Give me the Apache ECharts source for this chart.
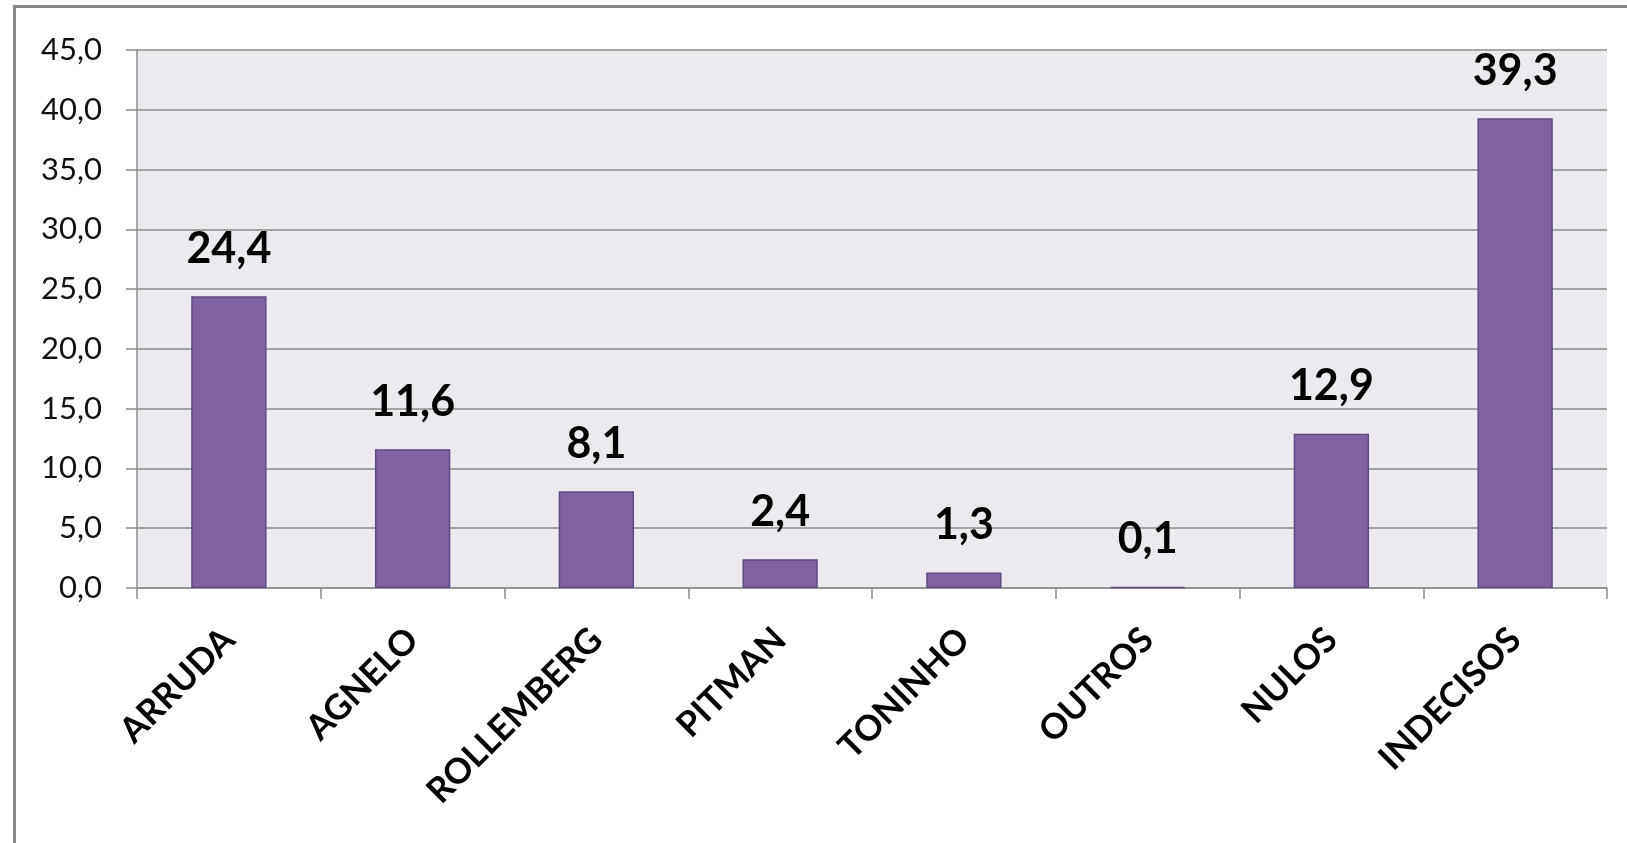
<!DOCTYPE html>
<html>
<head>
<meta charset="utf-8">
<script src="https://cdn.jsdelivr.net/npm/echarts@6/dist/echarts.min.js"></script>
<style>
html,body{margin:0;padding:0;background:#fff;}
#chart{width:1627px;height:843px;}
</style>
</head>
<body>
<div id="chart"></div>
<script>
var categories = ['ARRUDA', 'AGNELO', 'ROLLEMBERG', 'PITMAN', 'TONINHO', 'OUTROS', 'NULOS', 'INDECISOS'];
var values = [24.4, 11.6, 8.1, 2.4, 1.3, 0.1, 12.9, 39.3];
var yTicks = [0, 5, 10, 15, 20, 25, 30, 35, 40, 45];

function fmt(v) { return v.toFixed(1).replace('.', ','); }

var chart = echarts.init(document.getElementById('chart'));
chart.setOption({
  animation: false,
  backgroundColor: '#ffffff',
  graphic: [{
    type: 'rect',
    left: 12, top: 4,
    shape: { width: 1700, height: 900 },
    style: { fill: 'none', stroke: '#878787', lineWidth: 3 },
    silent: true, z: 100
  }],
  grid: {
    left: 137, right: 20, top: 50, bottom: 255,
    show: true, backgroundColor: '#ECE9EF', borderWidth: 0
  },
  xAxis: {
    type: 'category',
    data: categories,
    axisLine: { lineStyle: { color: '#8C8C8C', width: 1.5 } },
    axisTick: { show: true, length: 11, lineStyle: { color: '#8C8C8C', width: 1.5 } },
    axisLabel: {
      rotate: 45, interval: 0, margin: 46,
      fontFamily: 'Lato', fontWeight: 'bold', fontSize: 35, color: '#000'
    }
  },
  yAxis: {
    type: 'value',
    min: yTicks[0], max: yTicks[yTicks.length - 1], interval: 5,
    axisLine: { show: true, lineStyle: { color: '#8C8C8C', width: 1.5 } },
    axisTick: { show: true, length: 11, lineStyle: { color: '#8C8C8C', width: 1.5 } },
    splitLine: { show: true, lineStyle: { color: '#8C8C8C', width: 1.5 } },
    axisLabel: {
      margin: 35, fontFamily: 'Lato', fontSize: 31, color: '#111',
      formatter: function (v) { return fmt(v); }
    }
  },
  series: [{
    type: 'bar',
    data: values,
    barWidth: '41%',
    itemStyle: { color: '#8064A2', borderColor: '#5F4A80', borderWidth: 1.5 },
    label: {
      show: true, position: 'top', distance: 26,
      fontFamily: 'Lato', fontWeight: 'bold', fontSize: 43, color: '#000',
      formatter: function (p) { return fmt(p.value); }
    }
  }]
});
</script>
</body>
</html>
